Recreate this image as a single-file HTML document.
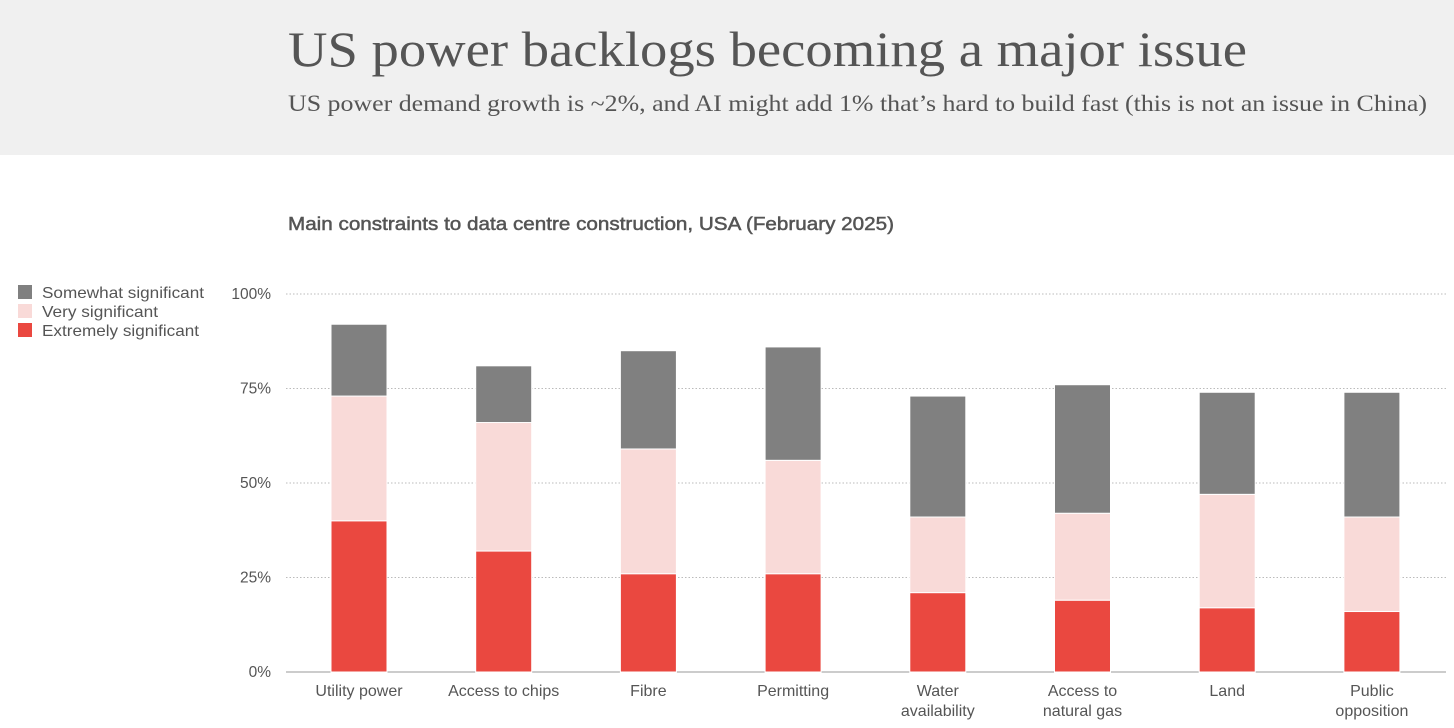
<!DOCTYPE html>
<html><head><meta charset="utf-8"><style>
html,body{margin:0;padding:0;background:#fff;}
svg{display:block;}
</style></head><body>
<svg id="chart" width="1454" height="728" xmlns="http://www.w3.org/2000/svg">
<rect x="0" y="0" width="1454" height="155" fill="#f0f0f0"/>
<text x="288" y="66" font-family="Liberation Serif, serif" font-size="50" fill="#555" textLength="959" lengthAdjust="spacingAndGlyphs">US power backlogs becoming a major issue</text>
<text x="288" y="111" font-family="Liberation Serif, serif" font-size="23" fill="#555" textLength="1139" lengthAdjust="spacingAndGlyphs">US power demand growth is ~2%, and AI might add 1% that’s hard to build fast (this is not an issue in China)</text>
<text x="288" y="230" font-family="Liberation Sans, sans-serif" font-size="18" fill="#555" stroke="#555" stroke-width="0.5" textLength="606" lengthAdjust="spacingAndGlyphs">Main constraints to data centre construction, USA (February 2025)</text>
<g>
<rect x="18" y="285" width="14" height="14" fill="#808080"/>
<text x="42" y="298" font-family="Liberation Sans, sans-serif" font-size="16" fill="#555" textLength="162" lengthAdjust="spacingAndGlyphs">Somewhat significant</text>
<rect x="18" y="304" width="14" height="14" fill="#f9dad8"/>
<text x="42" y="317" font-family="Liberation Sans, sans-serif" font-size="16" fill="#555" textLength="116" lengthAdjust="spacingAndGlyphs">Very significant</text>
<rect x="18" y="323" width="14" height="14" fill="#ea4840"/>
<text x="42" y="336" font-family="Liberation Sans, sans-serif" font-size="16" fill="#555" textLength="157" lengthAdjust="spacingAndGlyphs">Extremely significant</text>
</g>
<g id="grid"></g>
<g id="bars"></g>
<g id="xlabels"></g>
</svg>
<script>
const categories = [["Utility power"],["Access to chips"],["Fibre"],["Permitting"],["Water","availability"],["Access to","natural gas"],["Land"],["Public","opposition"]];
const extremely = [40,32,26,26,21,19,17,16];
const very = [33,34,33,30,20,23,30,25];
const somewhat = [19,15,26,30,32,34,27,33];
const yTicks = [0,25,50,75,100];
const yTickLabels = ["0%","25%","50%","75%","100%"];

const NS="http://www.w3.org/2000/svg";
const y0=672, y100=294;
function yScale(v){return y0-(y0-y100)*v/100;}
const xStart=359, step=144.7, bw=56;
function xScale(i){return xStart+i*step;}
function mk(tag,attrs,parent){const e=document.createElementNS(NS,tag);for(const k in attrs)e.setAttribute(k,attrs[k]);parent.appendChild(e);return e;}
const grid=document.getElementById('grid');
yTicks.forEach((t,i)=>{
  const yy=yScale(t);
  const l=mk('line',{x1:286,x2:1446,y1:yy,y2:yy,stroke:t===0?'#999':'#bbb','stroke-width':1,'stroke-dasharray':t===0?'':'1.5,2'},grid);
  
  
  const tx=mk('text',{x:271,y:yy+5,'text-anchor':'end','font-family':'Liberation Sans, sans-serif','font-size':15.5,fill:'#555'},grid);
  tx.textContent=yTickLabels[i];
  
  
});
const bars=document.getElementById('bars');
const xl=document.getElementById('xlabels');
categories.forEach((c,i)=>{
  const cx=xScale(i), x=cx-bw/2;
  const series=[[extremely[i],'#ea4840','extremely'],[very[i],'#f9dad8','very'],[somewhat[i],'#808080','somewhat']];
  let base=0;
  series.forEach(s=>{
    const top=base+s[0];
    const r=mk('rect',{x:x,y:yScale(top),width:bw,height:yScale(base)-yScale(top),fill:s[1],stroke:'#fff','stroke-width':1},bars);
    
    
    base=top;
  });
  c.forEach((line,j)=>{
    const t=mk('text',{x:cx,y:696+j*20,'text-anchor':'middle','font-family':'Liberation Sans, sans-serif','font-size':16,fill:'#555'},xl);
    t.textContent=line;
    
    
  });
});
</script>
</body></html>
